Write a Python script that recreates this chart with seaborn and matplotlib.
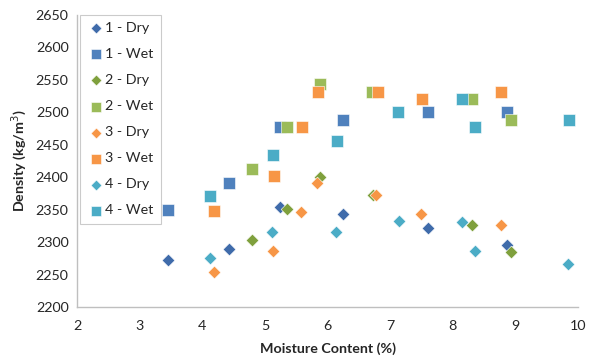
import matplotlib
matplotlib.use('Agg')
import matplotlib.pyplot as plt
import seaborn as sns
import pandas as pd

# moisture content (%) and density (kg/m3)
dry1_x = [3.45, 4.42, 5.24, 6.24, 7.61, 8.87]
dry1_y = [2272, 2289, 2354, 2343, 2322, 2296]
wet1_x = [3.46, 4.42, 5.24, 6.24, 7.61, 8.87]
wet1_y = [2349, 2391, 2477, 2488, 2500, 2500]
dry2_x = [4.79, 5.35, 5.88, 6.73, 8.30, 8.93]
dry2_y = [2303, 2351, 2401, 2372, 2327, 2284]
wet2_x = [4.79, 5.35, 5.88, 6.71, 8.31, 8.93]
wet2_y = [2413, 2477, 2543, 2532, 2521, 2488]
dry3_x = [4.19, 5.13, 5.57, 5.84, 6.78, 7.50, 8.77]
dry3_y = [2254, 2286, 2346, 2391, 2372, 2344, 2327]
wet3_x = [4.19, 5.14, 5.59, 5.85, 6.80, 7.51, 8.77]
wet3_y = [2348, 2402, 2477, 2531, 2532, 2521, 2532]
dry4_x = [4.12, 5.12, 6.14, 7.14, 8.14, 8.35, 9.84]
dry4_y = [2276, 2316, 2315, 2333, 2331, 2287, 2266]
wet4_x = [4.12, 5.13, 6.15, 7.13, 8.14, 8.35, 9.85]
wet4_y = [2371, 2434, 2456, 2500, 2521, 2477, 2488]

series = ['1 - Dry', '1 - Wet', '2 - Dry', '2 - Wet', '3 - Dry', '3 - Wet', '4 - Dry', '4 - Wet']
xs = [dry1_x, wet1_x, dry2_x, wet2_x, dry3_x, wet3_x, dry4_x, wet4_x]
ys = [dry1_y, wet1_y, dry2_y, wet2_y, dry3_y, wet3_y, dry4_y, wet4_y]

rows = []
for name, x, y in zip(series, xs, ys):
    for a, b in zip(x, y):
        rows.append({'Series': name, 'Moisture': a, 'Density': b})
df = pd.DataFrame(rows)

colors = {'1 - Dry': '#3F6BAA', '1 - Wet': '#4F81BD',
          '2 - Dry': '#7FA03D', '2 - Wet': '#9BBB59',
          '3 - Dry': '#F79646', '3 - Wet': '#F79646',
          '4 - Dry': '#4BACC6', '4 - Wet': '#4BACC6'}
markers = {s: ('D' if 'Dry' in s else 's') for s in series}

sns.set_style('white')
plt.rcParams['font.family'] = ['Lato', 'DejaVu Sans']

fig = plt.figure(figsize=(5.89, 3.62), dpi=100)
ax = fig.add_axes([77 / 589, 1 - 307 / 362, 501 / 589, 292 / 362])

for name in series:
    sub = df[df['Series'] == name]
    sz = 42 if 'Dry' in name else 70
    ax.scatter(sub['Moisture'], sub['Density'], marker=markers[name], s=sz,
               color=colors[name], edgecolors='white', linewidths=0.4, label=name)

ax.set_xlim(2, 10)
ax.set_ylim(2200, 2650)
ax.set_xticks(range(2, 11))
ax.set_yticks(range(2200, 2651, 50))
ax.tick_params(labelsize=10.3, colors='#262626', length=0, pad=9)
ax.tick_params(axis='y', pad=6)
for side in ['top', 'right']:
    ax.spines[side].set_visible(False)
for side in ['left', 'bottom']:
    ax.spines[side].set_color('#BFBFBF')
    ax.spines[side].set_linewidth(1)

ax.set_xlabel('Moisture Content (%)', fontsize=10.3, fontweight='bold', labelpad=8)
ax.set_ylabel('Density (kg/m$^3$)', fontsize=10.3, fontweight='bold', labelpad=5)

leg = ax.legend(loc='upper left', bbox_to_anchor=(0.005, 1.0), fontsize=10.3, frameon=True,
                fancybox=False, edgecolor='#BFBFBF', labelspacing=0.98, handletextpad=0.0,
                handlelength=1.3, borderpad=0.5, borderaxespad=0.0, markerscale=0.85)
leg.get_frame().set_linewidth(0.8)

fig.savefig('out.png', dpi=100)
